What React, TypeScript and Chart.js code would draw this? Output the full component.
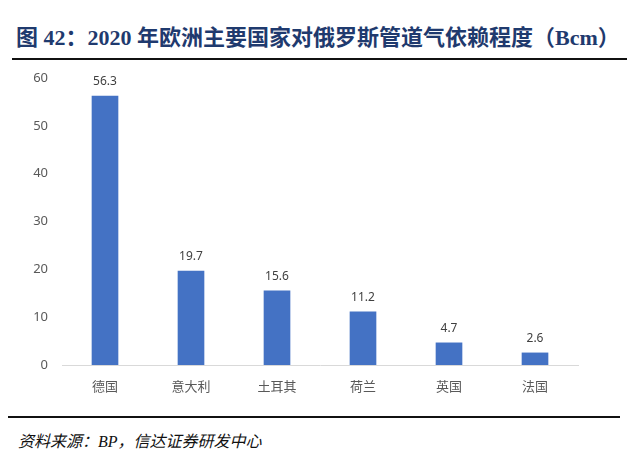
import React, { useEffect, useRef } from "react";
import { Chart, registerables } from "chart.js";

Chart.register(...registerables);

const categories = ["德国", "意大利", "土耳其", "荷兰", "英国", "法国"];
const values = [56.3, 19.7, 15.6, 11.2, 4.7, 2.6];
const yTicks = [0, 10, 20, 30, 40, 50, 60];
const title = "图 42：2020 年欧洲主要国家对俄罗斯管道气依赖程度（Bcm）";
const source = "资料来源：BP，信达证券研发中心";

const labelPlugin = {
  id: "valueLabels",
  afterDatasetsDraw(chart: any) {
    const ctx = chart.ctx;
    const meta = chart.getDatasetMeta(0);
    ctx.save();
    ctx.font = "12px 'Noto Sans', 'Open Sans', sans-serif";
    ctx.fillStyle = "#404040";
    ctx.textAlign = "center";
    ctx.textBaseline = "middle";
    meta.data.forEach((bar: any, i: number) => {
      ctx.fillText(values[i].toFixed(1), bar.x, bar.y - 14);
    });
    ctx.restore();
  },
};

export default function App() {
  const ref = useRef<HTMLCanvasElement | null>(null);
  useEffect(() => {
    if (!ref.current) return;
    const chart = new Chart(ref.current, {
      type: "bar",
      data: {
        labels: categories,
        datasets: [
          {
            data: values,
            backgroundColor: "#4472C4",
            categoryPercentage: 1,
            barPercentage: 0.31,
          },
        ],
      },
      options: {
        animation: false,
        responsive: false,
        maintainAspectRatio: false,
        layout: { padding: { top: 18, right: 62, left: 0, bottom: 0 } },
        plugins: { legend: { display: false }, tooltip: { enabled: false } },
        scales: {
          x: {
            grid: { display: false, drawTicks: false },
            border: { display: true, color: "#d9d9d9", width: 1 },
            ticks: {
              color: "#595959",
              font: { size: 13, family: "'Noto Sans CJK SC', sans-serif" },
              padding: 13,
            },
            afterFit(scale: any) {
              scale.height = 40;
              scale.paddingLeft = 0;
              scale.paddingRight = 0;
            },
          },
          y: {
            min: 0,
            max: 60,
            afterBuildTicks(scale: any) {
              scale.ticks = yTicks.map((v) => ({ value: v }));
            },
            grid: { display: false, drawTicks: false },
            border: { display: false },
            ticks: {
              color: "#595959",
              font: { size: 13, family: "'Noto Sans', sans-serif" },
              padding: 14,
            },
            afterFit(scale: any) {
              scale.width = 62;
              scale.paddingTop = 0;
              scale.paddingBottom = 0;
            },
          },
        },
      },
      plugins: [labelPlugin],
    });
    return () => chart.destroy();
  }, []);

  return (
    <div
      style={{
        position: "fixed",
        left: 0,
        top: 0,
        width: 640,
        height: 458,
        background: "#fff",
        overflow: "hidden",
      }}
    >
      <div
        style={{
          position: "absolute",
          left: 16,
          top: 24,
          whiteSpace: "nowrap",
          fontFamily: "'Liberation Serif', 'Noto Sans CJK SC', serif",
          fontWeight: "bold",
          fontSize: 22,
          lineHeight: "28px",
          color: "#1F3A6E",
        }}
      >
        {title}
      </div>
      <div
        style={{
          position: "absolute",
          left: 12,
          top: 58,
          width: 615,
          height: 2,
          background: "#111",
        }}
      />
      <canvas
        ref={ref}
        width={640}
        height={345}
        style={{ position: "absolute", left: 0, top: 60, width: 640, height: 345 }}
      />
      <div
        style={{
          position: "absolute",
          left: 8,
          top: 416,
          width: 612,
          height: 2,
          background: "#111",
        }}
      />
      <div
        style={{
          position: "absolute",
          left: 18,
          top: 431,
          whiteSpace: "nowrap",
          fontFamily: "'Liberation Serif', 'Noto Sans CJK SC', serif",
          fontStyle: "italic",
          fontSize: 16,
          lineHeight: "22px",
          color: "#111",
        }}
      >
        {source}
      </div>
    </div>
  );
}
